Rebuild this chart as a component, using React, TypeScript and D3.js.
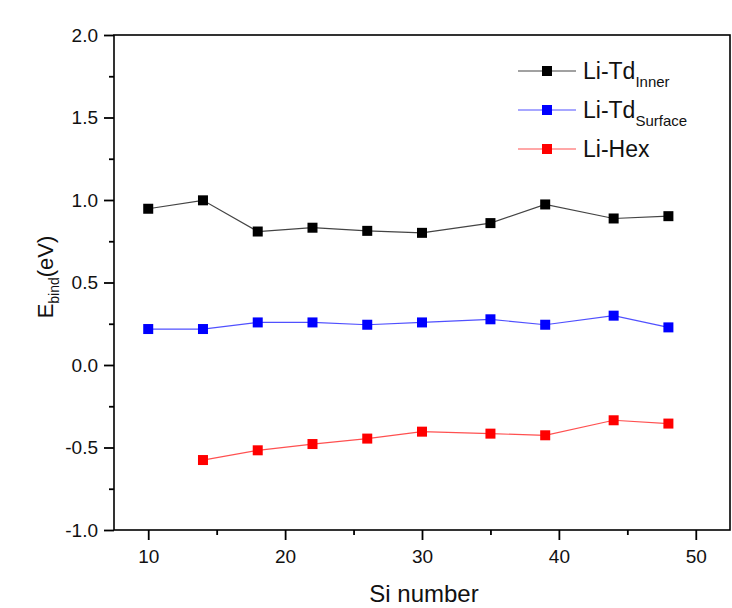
import React, { useRef, useEffect } from 'react';
import * as d3 from 'd3';

// Si cluster sizes
const siNumbers = [10, 14, 18, 22, 26, 30, 35, 39, 44, 48];
const hexSiNumbers = [14, 18, 22, 26, 30, 35, 39, 44, 48];

// binding energies (eV)
const innerValues = [0.947, 0.998, 0.809, 0.832, 0.813, 0.801, 0.86, 0.973, 0.888, 0.902];
const surfaceValues = [0.218, 0.218, 0.258, 0.258, 0.244, 0.258, 0.277, 0.244, 0.299, 0.228];
const hexValues = [-0.576, -0.517, -0.479, -0.446, -0.404, -0.416, -0.426, -0.335, -0.355];

const xMajorTicks = [10, 20, 30, 40, 50];
const xMinorTicks = [15, 25, 35, 45];
const yMajorTicks = [-1.0, -0.5, 0.0, 0.5, 1.0, 1.5, 2.0];
const yMinorTicks = [-0.75, -0.25, 0.25, 0.75, 1.25, 1.75];

const seriesNames = ['Li-Td', 'Li-Td', 'Li-Hex'];
const seriesSubs = ['Inner', 'Surface', ''];
const seriesColors = ['#000000', '#0000ff', '#ff0000'];
const lineColors = ['#444444', '#5050ff', '#ff5050'];

const FONT = '"Liberation Sans", Arial, sans-serif';

const Chart = () => {
    const ref = useRef<SVGSVGElement | null>(null);

    useEffect(() => {
        const width = 732;
        const height = 608;
        const left = 114, right = 730, top = 35, bottom = 530;

        const svg = d3.select(ref.current);
        svg.selectAll('*').remove();

        svg.append('rect')
            .attr('width', width)
            .attr('height', height)
            .attr('fill', '#ffffff');

        const x = d3.scaleLinear().domain([7.5, 52.5]).range([left, right]);
        const y = d3.scaleLinear().domain([-1, 2]).range([bottom, top]);

        // x axis, majors + minors
        const xAxis = svg.append('g').attr('transform', `translate(0,${bottom})`);
        xAxis.call(d3.axisBottom(x).tickValues(xMajorTicks).tickSize(10).tickPadding(10).tickSizeOuter(0)
            .tickFormat((d: any) => String(d)));
        const xMinor = svg.append('g').attr('transform', `translate(0,${bottom})`);
        xMinor.call(d3.axisBottom(x).tickValues(xMinorTicks).tickSize(5).tickFormat(() => '').tickSizeOuter(0));

        // y axis
        const yAxis = svg.append('g').attr('transform', `translate(${left},0)`);
        yAxis.call(d3.axisLeft(y).tickValues(yMajorTicks).tickSize(10).tickPadding(6).tickSizeOuter(0)
            .tickFormat((d: any) => (+d).toFixed(1)));
        const yMinor = svg.append('g').attr('transform', `translate(${left},0)`);
        yMinor.call(d3.axisLeft(y).tickValues(yMinorTicks).tickSize(5).tickFormat(() => '').tickSizeOuter(0));

        svg.selectAll('.domain').remove();
        svg.selectAll('.tick line').attr('stroke', '#000').attr('stroke-width', 1.8);
        svg.selectAll('.tick text')
            .attr('fill', '#111')
            .style('font-family', FONT)
            .style('font-size', '19px');

        // frame
        svg.append('rect')
            .attr('x', left)
            .attr('y', top)
            .attr('width', right - left)
            .attr('height', bottom - top)
            .attr('fill', 'none')
            .attr('stroke', '#000')
            .attr('stroke-width', 1.6);

        // series
        const allSeries = [
            siNumbers.map((s, i) => [s, innerValues[i]]),
            siNumbers.map((s, i) => [s, surfaceValues[i]]),
            hexSiNumbers.map((s, i) => [s, hexValues[i]]),
        ];
        const line = d3.line<number[]>().x(d => x(d[0])).y(d => y(d[1]));
        const m = 10;

        allSeries.forEach((pts, k) => {
            svg.append('path')
                .attr('d', line(pts))
                .attr('fill', 'none')
                .attr('stroke', lineColors[k])
                .attr('stroke-width', 1.2);
            svg.selectAll(null)
                .data(pts)
                .enter()
                .append('rect')
                .attr('x', d => x(d[0]) - m / 2)
                .attr('y', d => y(d[1]) - m / 2)
                .attr('width', m)
                .attr('height', m)
                .attr('fill', seriesColors[k]);
        });

        // legend
        const legend = svg.append('g');
        seriesNames.forEach((name, k) => {
            const ly = 71 + k * 39;
            legend.append('line')
                .attr('x1', 518).attr('x2', 576)
                .attr('y1', ly).attr('y2', ly)
                .attr('stroke', lineColors[k])
                .attr('stroke-width', 1.2);
            legend.append('rect')
                .attr('x', 547 - m / 2).attr('y', ly - m / 2)
                .attr('width', m).attr('height', m)
                .attr('fill', seriesColors[k]);
            const t = legend.append('text')
                .attr('x', 583)
                .attr('y', ly + 8)
                .style('font-family', FONT)
                .style('font-size', '23px')
                .attr('fill', '#111')
                .text(name);
            if (seriesSubs[k]) {
                t.append('tspan')
                    .attr('dy', 8)
                    .style('font-size', '15px')
                    .text(seriesSubs[k]);
            }
        });

        // axis titles
        svg.append('text')
            .attr('x', (left + right) / 2 + 2)
            .attr('y', 602)
            .attr('text-anchor', 'middle')
            .style('font-family', FONT)
            .style('font-size', '24px')
            .attr('fill', '#111')
            .text('Si number');

        const yt = svg.append('text')
            .attr('transform', 'translate(53,277) rotate(-90)')
            .attr('text-anchor', 'middle')
            .style('font-family', FONT)
            .style('font-size', '22px')
            .attr('fill', '#111');
        yt.append('tspan').text('E');
        yt.append('tspan').attr('dy', 6).style('font-size', '14px').text('bind');
        yt.append('tspan').attr('dy', -6).text('(eV)');
    }, []);

    return (
        <svg
            ref={ref}
            width={732}
            height={608}
            style={{ position: 'absolute', left: 0, top: 0 }}
        />
    );
};

const App = () => {
    return (
        <div>
            <Chart />
        </div>
    );
};

export default App;
